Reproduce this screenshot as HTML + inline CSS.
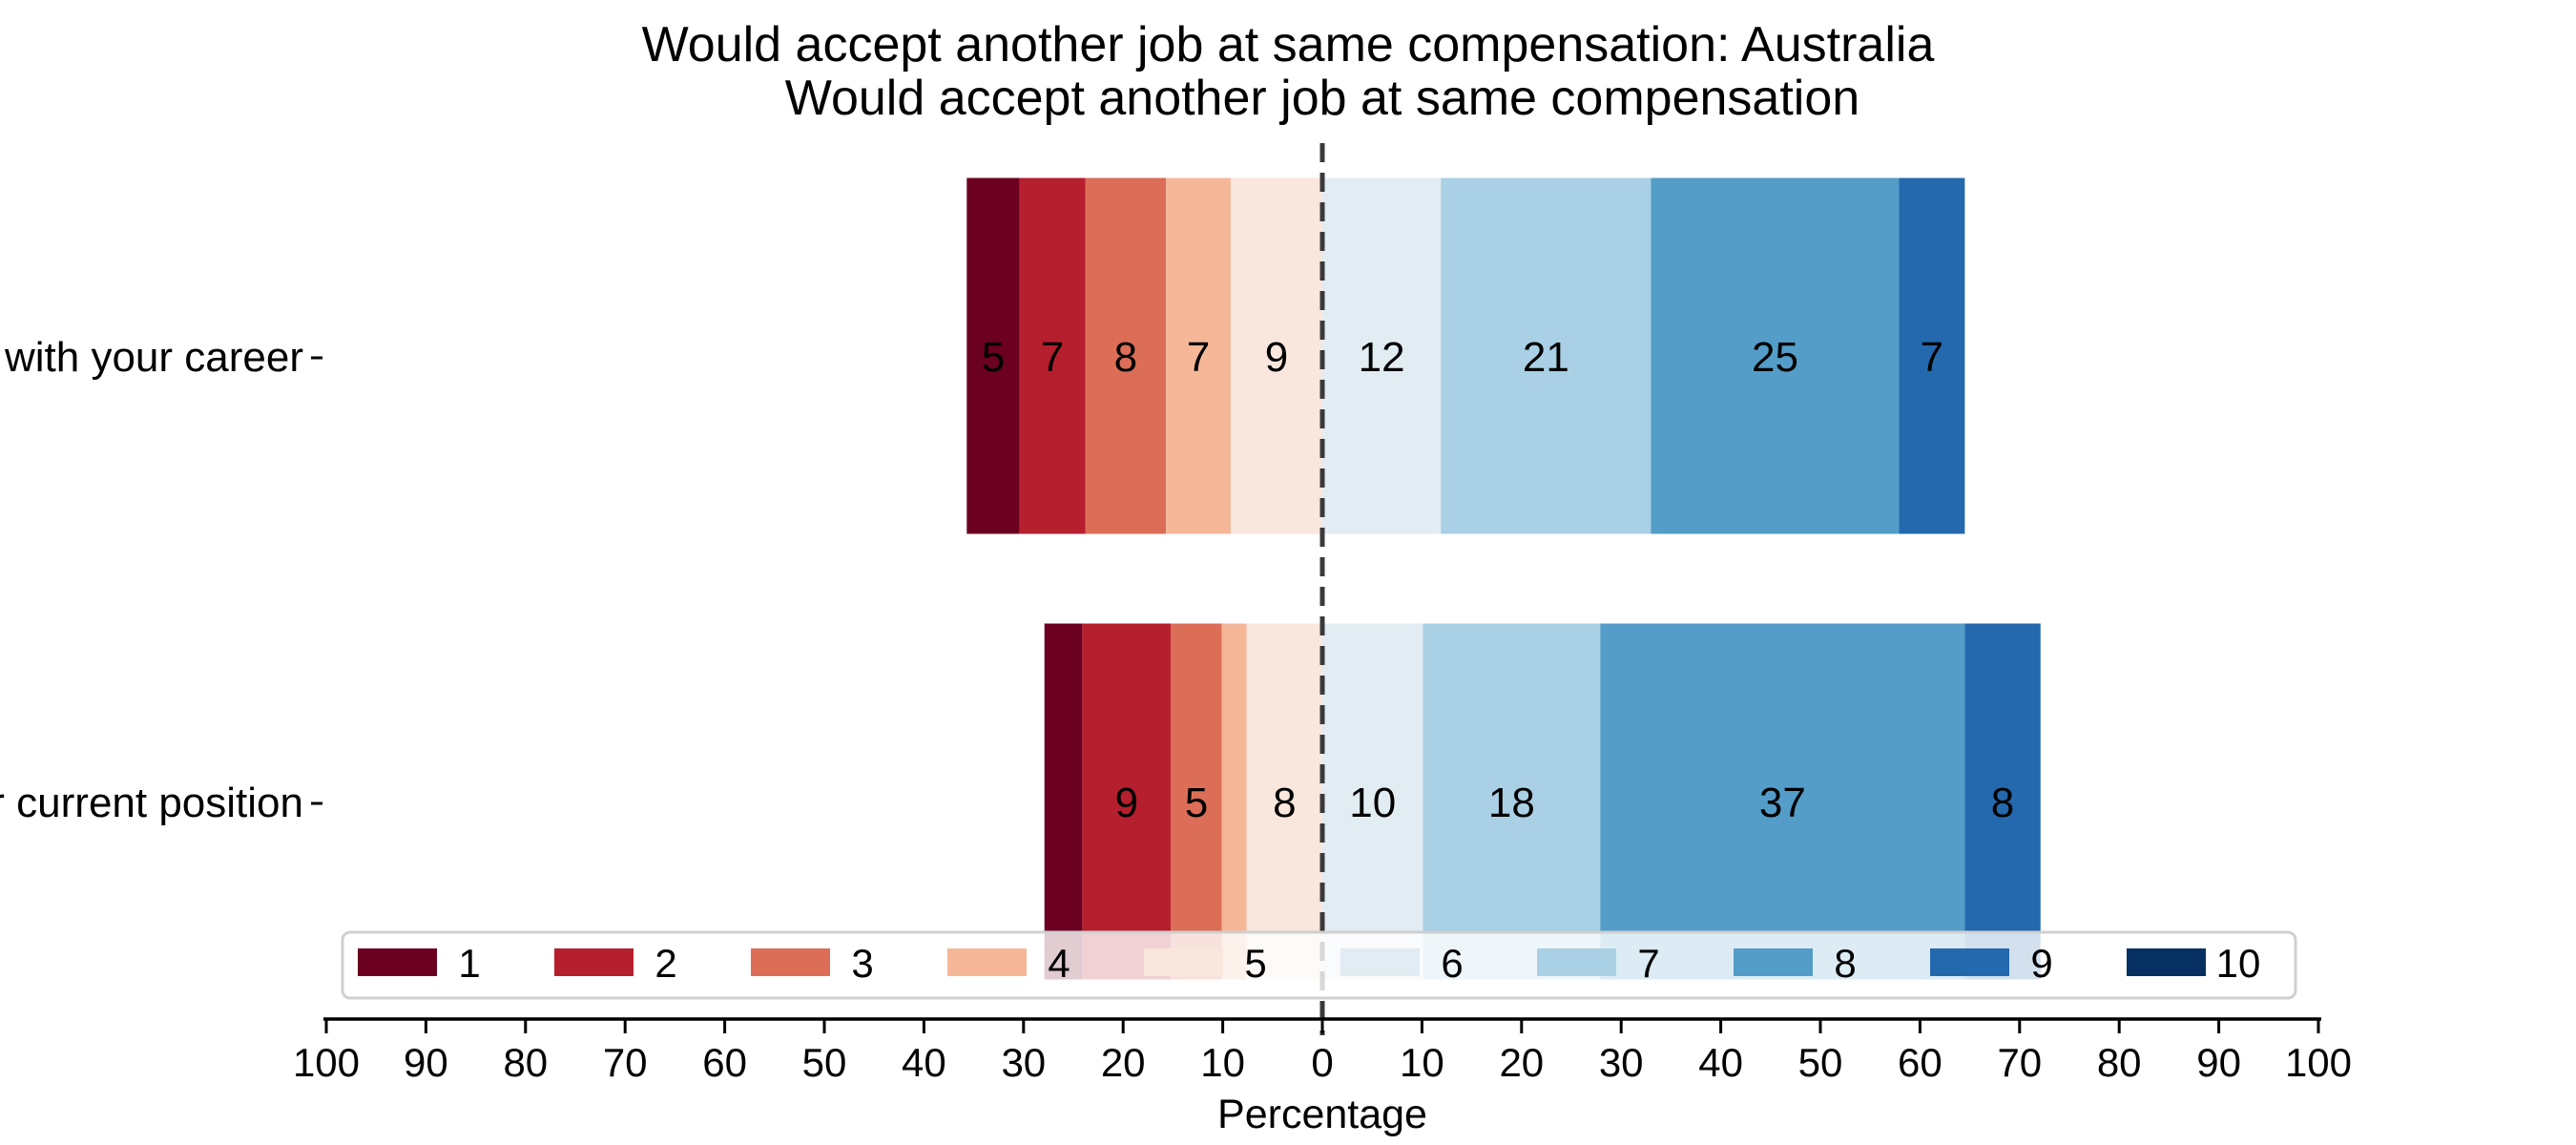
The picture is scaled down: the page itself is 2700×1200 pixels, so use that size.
<!DOCTYPE html>
<html><head><meta charset="utf-8"><style>
html,body{margin:0;padding:0;background:#fff;}
svg{display:block;font-family:"Liberation Sans",sans-serif;}
</style></head><body>
<svg id="chart" width="2700" height="1200" viewBox="0 0 2700 1200"></svg>
<script>
const categories = ["Satisfied with your career", "Satisfied with your current position"];
const levels = ["1","2","3","4","5","6","7","8","9","10"];
const seriesCareer = [5.3, 6.6, 8.1, 6.5, 9.2, 11.9, 21.1, 24.9, 6.6, 0];
const seriesPosition = [3.8, 8.9, 5.1, 2.5, 7.6, 10.1, 17.8, 36.6, 7.6, 0];
const tickValues = [-100,-90,-80,-70,-60,-50,-40,-30,-20,-10,0,10,20,30,40,50,60,70,80,90,100];
const colors = ["#6b0021","#b61f2e","#dc6e57","#f6b799","#f9e6dc","#e1ecf3","#a9d0e4","#539dc8","#2469ae","#053061"];

const NS = "http://www.w3.org/2000/svg";
const svg = document.getElementById("chart");
function mk(tag, attrs, parent){ const e=document.createElementNS(NS,tag); for(const k in attrs) e.setAttribute(k,attrs[k]); (parent||svg).appendChild(e); return e; }
const X0 = 1386, PX = 10.44;
function xs(v){ return X0 + v*PX; }
const rowY = [373, 840], barH = 373;
function ys(i){ return rowY[i]; }

let t = mk("text",{x:1350,y:64,"font-size":52,"text-anchor":"middle",fill:"#000"});


t.textContent="Would accept another job at same compensation: Australia";
t = mk("text",{x:1386,y:120,"font-size":52,"text-anchor":"middle",fill:"#000"});


t.textContent="Would accept another job at same compensation";

const allSeries = [seriesCareer, seriesPosition];
allSeries.forEach((vals, r) => {
  const g = mk("g",{});
  
  
  let left = 0; for(let i=0;i<5;i++) left += vals[i];
  let cur = -left;
  for(let i=0;i<10;i++){
    const v = vals[i];
    if(i===5) cur = 0;
    const x1 = xs(cur), x2 = xs(cur+v);
    if(v>0){
      const rc = mk("rect",{x:x1,y:ys(r)-barH/2,width:x2-x1,height:barH,fill:colors[i]},g);
      
      
      if(v>=4){
        const lb = mk("text",{x:(x1+x2)/2,y:ys(r)+16,"font-size":44,"text-anchor":"middle",fill:"#000"},g);
        
        
        lb.textContent = Math.round(v);
      }
    }
    cur += v;
  }
  const yl = mk("text",{x:318,y:ys(r)+16,"font-size":44,"text-anchor":"end",fill:"#000"});
  
  
  yl.textContent = categories[r];
  const tk = mk("line",{x1:326,x2:338,y1:ys(r)+2,y2:ys(r)+2,stroke:"#000","stroke-width":3});
  
  
});

const zl = mk("line",{x1:X0,x2:X0,y1:150,y2:1085,stroke:"#3a3a3a","stroke-width":5,"stroke-dasharray":"20 11"});



const ax = mk("g",{});


const sp = mk("line",{x1:xs(-100)-3,x2:xs(100)+3,y1:1068,y2:1068,stroke:"#000","stroke-width":3.5},ax);


tickValues.forEach(v=>{
  const l = mk("line",{x1:xs(v),x2:xs(v),y1:1068,y2:1083,stroke:"#000","stroke-width":3},ax);
  
  
  const tx = mk("text",{x:xs(v),y:1128,"font-size":42,"text-anchor":"middle",fill:"#000"},ax);
  
  
  tx.textContent = Math.abs(v);
});
const xl = mk("text",{x:1386,y:1182,"font-size":43,"text-anchor":"middle",fill:"#000"});


xl.textContent="Percentage";

const lg = mk("g",{});


const box = mk("rect",{x:359,y:977,width:2047,height:69,rx:8,fill:"rgba(255,255,255,0.8)",stroke:"#d0d0d0","stroke-width":3},lg);


levels.forEach((lv,i)=>{
  const px = 375 + i*206;
  const p = mk("rect",{x:px,y:994,width:83,height:29,fill:colors[i]},lg);
  
  
  const tx = mk("text",{x:px+117,y:1024,"font-size":42,"text-anchor":"middle",fill:"#000"},lg);
  
  
  tx.textContent = lv;
});
</script>
</body></html>
